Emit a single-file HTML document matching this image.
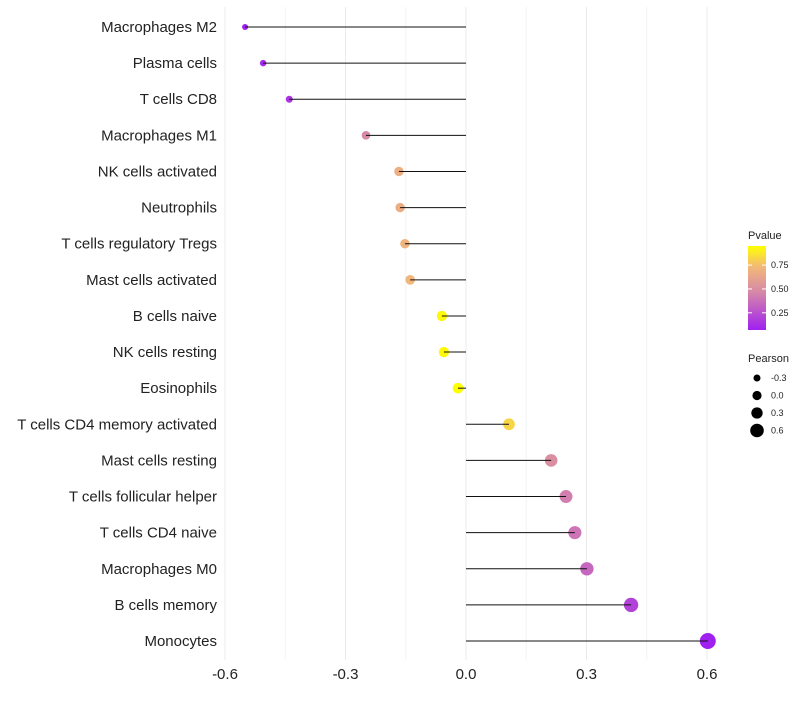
<!DOCTYPE html>
<html><head><meta charset="utf-8"><style>
body{margin:0;background:#fff;font-family:"Liberation Sans",sans-serif}
svg text{font-family:"Liberation Sans",sans-serif}
</style></head><body>
<svg id="c" width="800" height="700"></svg>
<script>
const categories=["Macrophages M2","Plasma cells","T cells CD8","Macrophages M1","NK cells activated","Neutrophils","T cells regulatory  Tregs","Mast cells activated","B cells naive","NK cells resting","Eosinophils","T cells CD4 memory activated","Mast cells resting","T cells follicular helper","T cells CD4 naive","Macrophages M0","B cells memory","Monocytes"];
const pearson=[-0.55,-0.505,-0.44,-0.249,-0.167,-0.164,-0.152,-0.139,-0.06,-0.055,-0.02,0.107,0.212,0.249,0.271,0.301,0.411,0.602];
const pvalues=[0.07,0.1,0.15,0.47,0.68,0.67,0.7,0.72,0.93,0.93,0.95,0.82,0.5,0.43,0.39,0.34,0.2,0.07];
const xTicks=[-0.6,-0.3,0,0.3,0.6];
const xTickLabels=["-0.6","-0.3","0.0","0.3","0.6"];
const pTicks=[0.25,0.5,0.75];
const sizeTicks=[-0.3,0,0.3,0.6];
const NS="http://www.w3.org/2000/svg";
const svg=document.getElementById('c');
function el(t,a,p){const e=document.createElementNS(NS,t);for(const k in a)e.setAttribute(k,a[k]);(p||svg).appendChild(e);return e;}
const x=v=>466+v*(707-225)/1.2;
const y=i=>27+i*(641-27)/17;
const pMin=0.07,pMax=0.95;
function lerp(a,b,t){return a.map((v,i)=>Math.round(v+(b[i]-v)*t));}
const stops=[[0,[160,32,240]],[0.45,[214,136,168]],[0.75,[242,184,120]],[1,[255,255,0]]];
function col(p){let t=Math.max(0,Math.min(1,(p-pMin)/(pMax-pMin)));
 for(let k=1;k<stops.length;k++){if(t<=stops[k][0]){const a=stops[k-1],b=stops[k];return `rgb(${lerp(a[1],b[1],(t-a[0])/(b[0]-a[0]))})`;}}
 return 'rgb(255,255,0)';}
const r=v=>Math.max(2.2,5.4+4.3*v);
for(let v=-0.6;v<=0.601;v+=0.15){const g=el('line',{x1:x(v),x2:x(v),y1:7,y2:660,stroke:Math.abs(Math.round(v/0.15))%2?'#f4f4f4':'#ebebeb','stroke-width':1});
}
xTicks.forEach((v,i)=>{const t=el('text',{x:x(v),y:679,'text-anchor':'middle','font-size':15,fill:'#222'});t.textContent=xTickLabels[i];
});
categories.forEach((c,i)=>{
 const t=el('text',{x:217,y:y(i)+5,'text-anchor':'end','font-size':15,fill:'#222'});t.textContent=c;
 
 const d=el('circle',{cx:x(pearson[i]),cy:y(i),r:r(pearson[i]),fill:col(pvalues[i])});
 
 const l=el('line',{x1:x(0),x2:x(pearson[i]),y1:y(i),y2:y(i),stroke:'#111','stroke-width':1});
 
});
const lt=el('text',{x:748,y:239,'font-size':11,fill:'#222'});lt.textContent='Pvalue';

const defs=el('defs',{});const gr=el('linearGradient',{id:'g',x1:0,y1:1,x2:0,y2:0},defs);
for(let k=0;k<=20;k++){el('stop',{offset:k/20,'stop-color':col(pMin+(pMax-pMin)*k/20)},gr);}
const pb=el('rect',{x:748,y:246,width:18,height:84,fill:'url(#g)'});

const py=p=>330-(p-pMin)/(pMax-pMin)*84;
pTicks.forEach(p=>{el('line',{x1:748,x2:752,y1:py(p),y2:py(p),stroke:'#fff'});el('line',{x1:762,x2:766,y1:py(p),y2:py(p),stroke:'#fff'});
 const t=el('text',{x:771,y:py(p)+3,'font-size':9,fill:'#222'});t.textContent=p.toFixed(2);
 });
const st=el('text',{x:748,y:362,'font-size':11,fill:'#222'});st.textContent='Pearson';

sizeTicks.forEach((v,i)=>{const cy=378+i*17.5;
 const c=el('circle',{cx:757,cy:cy,r:r(v)*0.85,fill:'#000'});
 const t=el('text',{x:771,y:cy+3,'font-size':9,fill:'#222'});t.textContent=v.toFixed(1);
 });
</script>
</body></html>
